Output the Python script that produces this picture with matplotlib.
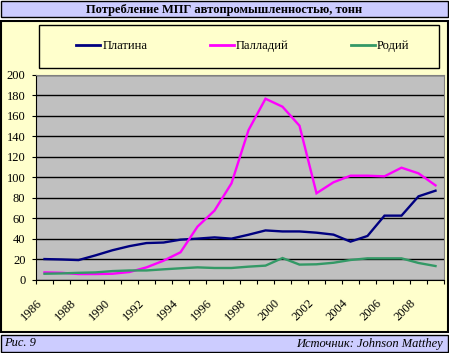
import matplotlib
matplotlib.use("Agg")
import matplotlib.pyplot as plt
from matplotlib.patches import Rectangle
import numpy as np

years = list(range(1986, 2010))
platinum = [20.4, 20, 19.4, 24, 29, 33, 36, 36.5, 39.3, 40.3, 41.5, 40.3,
            44.1, 48.3, 47.3, 47.3, 46.1, 44.2, 37.4, 42.9, 62.7, 62.7, 81.5, 87]
palladium = [7.4, 7, 5.8, 5.8, 6.1, 7.8, 12.3, 18.8, 27, 52, 67.6, 94.2,
             146, 176.6, 168.8, 150.3, 84.5, 95.2, 101.6, 101.6, 101, 109.4, 103.9, 92.2]
rhodium = [6.1, 6.4, 7, 7.4, 8.7, 9.3, 9.3, 10.4, 11.4, 12.3, 11.7, 11.7,
           13, 14, 21.4, 15, 15.3, 16.8, 19.5, 21.1, 21.1, 21.1, 16.6, 13.6]
series_names = ["Платина", "Палладий", "Родий"]
series_colors = ["#000080", "#FF00FF", "#339966"]
title = "Потребление МПГ автопромышленностью, тонн"
footer_left = "Рис. 9"
footer_right = "Источник: Johnson Matthey"

plt.rcParams['font.family'] = ['Liberation Serif', 'DejaVu Serif']

W, H = 449, 353
fig = plt.figure(figsize=(W / 100, H / 100), dpi=100)
fig.patch.set_facecolor("white")

def rect_px(x0, y0, x1, y1, fc, lw=1.0, ec="black", z=-5):
    r = Rectangle((x0 / W, 1 - y1 / H), (x1 - x0) / W, (y1 - y0) / H,
                  transform=fig.transFigure, facecolor=fc, edgecolor=ec,
                  linewidth=lw, zorder=z)
    fig.add_artist(r)

# title box, chart area, footer
rect_px(1, 1, 448, 17, "#CCCCFF", lw=1.0)
rect_px(1, 20.5, 448, 331.5, "#FFFFCC", lw=1.5)
rect_px(1, 335, 448, 351.5, "#CCCCFF", lw=1.0)
# legend box
rect_px(39, 25, 439, 68, "#FFFFCC", lw=1.0, z=-4)

fig.text(224.5 / W, 1 - 9.5 / H, title, ha="center", va="center",
         fontsize=9, fontweight="bold")
fig.text(4 / W, 1 - 343.5 / H, footer_left, ha="left", va="center",
         fontsize=9, style="italic")
fig.text(443 / W, 1 - 343.5 / H, footer_right, ha="right", va="center",
         fontsize=9, style="italic")

# plot area
x0, x1, yt, yb = 36, 444, 74.7, 280
ax = fig.add_axes([x0 / W, 1 - yb / H, (x1 - x0) / W, (yb - yt) / H])
ax.set_zorder(1)
ax.set_facecolor("#C0C0C0")
idx = np.arange(len(years))
lines = []
for vals, name, col in zip([platinum, palladium, rhodium], series_names, series_colors):
    ln, = ax.plot(idx, vals, color=col, linewidth=1.7, label=name,
                  solid_joinstyle="miter", zorder=3)
    lines.append(ln)

ax.set_xlim(-0.5, len(years) - 0.5)
ax.set_ylim(0, 200)
ax.set_yticks(np.arange(0, 201, 20))
ax.yaxis.grid(True, color="black", linewidth=1.0)
ax.set_axisbelow(True)
ax.tick_params(axis="y", direction="out", length=3, width=0.8, pad=4.6,
               labelsize=9, colors="black")
ax.set_xticks(idx[::2])
ax.set_xticklabels([str(y) for y in years[::2]], rotation=45, ha="right",
                   va="top")
ax.set_xticks(np.arange(-0.5, len(years), 1.0), minor=True)
ax.tick_params(axis="x", which="major", length=0, pad=12, labelsize=9)
ax.tick_params(axis="x", which="minor", direction="out", length=3, width=0.8)
for s in ["left", "bottom"]:
    ax.spines[s].set_color("black")
    ax.spines[s].set_linewidth(0.8)
for s in ["top", "right"]:
    ax.spines[s].set_color("#808080")
    ax.spines[s].set_linewidth(0.8)

leg = fig.legend(handles=lines, loc="center",
                 bbox_to_anchor=(243 / W, 1 - 46 / H), ncol=3, frameon=False,
                 fontsize=9, handlelength=1.92, handletextpad=0.16,
                 columnspacing=5.0, borderpad=0)
leg.set_zorder(2)
for h in leg.get_lines():
    h.set_linewidth(2.0)

fig.savefig("out.png", dpi=100, facecolor=fig.get_facecolor())
